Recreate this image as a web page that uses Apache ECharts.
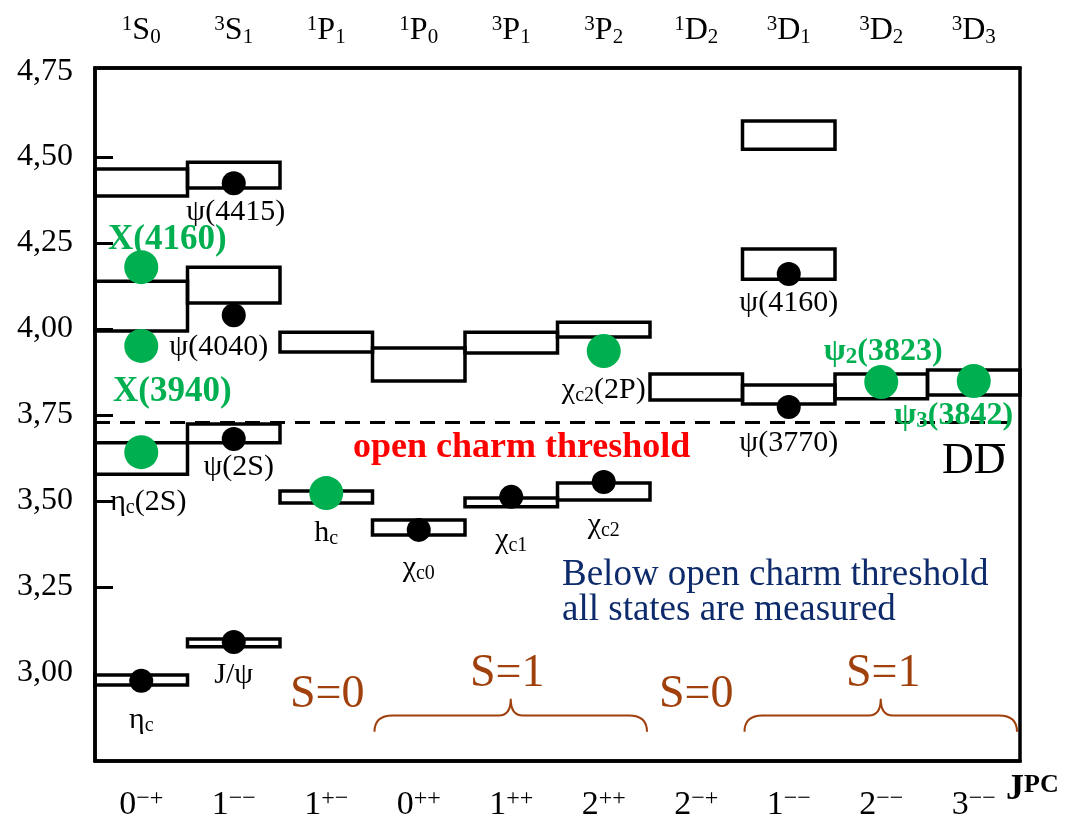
<!DOCTYPE html>
<html><head><meta charset="utf-8">
<script src="https://cdn.jsdelivr.net/npm/echarts@6/dist/echarts.min.js"></script>
<style>html,body{margin:0;padding:0;background:#fff}#c{width:1067px;height:824px}</style>
</head><body><div id="c"></div>
<script>
// ---------- data ----------
const jpcJ = ['0','1','1','0','1','2','2','1','2','3'];
const jpcPC = ['\u2212+','\u2212\u2212','+\u2212','++','++','++','\u2212+','\u2212\u2212','\u2212\u2212','\u2212\u2212'];
const specMult = ['1','3','1','1','3','3','1','3','3','3'];
const specL = ['S','S','P','P','P','P','D','D','D','D'];
const specJ = ['0','1','1','0','1','2','2','1','2','3'];
const yTickLabels = [3.00, 3.25, 3.50, 3.75, 4.00, 4.25, 4.50, 4.75];
const yTickMarks = [3.25, 3.50, 3.75, 4.00, 4.25, 4.50];

// predicted level bands: column, low mass, high mass (GeV)
const bandCol  = [0,     0,     0,     0,     1,     1,     1,     1,     2,     2,     3,     3,     4,     4,     5,     5,     6,     7,     7,     7,     8,     9];
const bandLow  = [4.387, 3.994, 3.578, 2.965, 4.410, 4.076, 3.669, 3.076, 3.933, 3.494, 3.849, 3.401, 3.930, 3.483, 3.977, 3.503, 3.794, 4.523, 4.145, 3.782, 3.797, 3.808];
const bandHigh = [4.465, 4.139, 3.669, 2.994, 4.485, 4.180, 3.724, 3.099, 3.991, 3.529, 3.945, 3.445, 3.991, 3.509, 4.020, 3.552, 3.869, 4.605, 4.233, 3.837, 3.869, 3.881];

// established states (black)
const knownNames = ['\u03b7{s|c}', 'J/\u03c8', '\u03c8(2S)', '\u03c8(4040)', '\u03c8(4415)', '\u03c7{s|c0}', '\u03c7{s|c1}', '\u03c7{s|c2}', '\u03c8(3770)', '\u03c8(4160)'];
const knownCol  = [0, 1, 1, 1, 1, 3, 4, 5, 7, 7];
const knownMass = [2.977, 3.090, 3.680, 4.040, 4.424, 3.416, 3.512, 3.555, 3.773, 4.160];

// newer states (green)
const newNames = ['X(4160)', 'X(3940)', '\u03b7{s|c}(2S)', 'h{s|c}', '\u03c7{s|c2}(2P)', '\u03c8{g|2}(3823)', '\u03c8{g|3}(3842)'];
const newCol  = [0, 0, 0, 2, 5, 8, 9];
const newMass = [4.180, 3.951, 3.642, 3.523, 3.936, 3.846, 3.849];

const threshold = 3.727;
const braceSpans = [[3, 6], [7, 10]];
const spinLabels = ['S=0', 'S=1', 'S=0', 'S=1'];

// ---------- layout / style (not data) ----------
const knownOffsets = [[0,39],[0,33],[5,28],[-15,32],[2,29],[0,38],[0,43],[0,43],[0,36],[0,29]];
const newOffsets = [[26,-27],[31,46],[7,50],[0,40],[0,39],[2,-30],[-20,35]];
const newLabelStyle = [true, true, false, false, false, true, true];
const FONT = '"Liberation Serif", "Times New Roman", serif';

const chart = echarts.init(document.getElementById('c'), null, {renderer: 'canvas'});

const blackRich = {
  s: {fontFamily: FONT, fontSize: 20, color: '#000', verticalAlign: 'bottom', lineHeight: 14},
  b: {fontFamily: FONT, fontSize: 30, color: '#000', lineHeight: 32}
};
const greenRich = {
  G: {fontFamily: FONT, fontSize: 35, fontWeight: 'bold', color: '#00b050', lineHeight: 36},
  H: {fontFamily: FONT, fontSize: 32, fontWeight: 'bold', color: '#00b050', lineHeight: 34},
  g: {fontFamily: FONT, fontSize: 23, fontWeight: 'bold', color: '#00b050', verticalAlign: 'bottom', lineHeight: 16}
};
function wrapBase(str, base) {
  return str.split(/(\{[a-z]\|[^}]*\})/).filter(p => p).map(p => p.startsWith('{') ? p : '{' + base + '|' + p + '}').join('');
}

const bandData = bandCol.map((c, i) => [c, bandLow[i], bandHigh[i]]);

const knownData = knownCol.map((c, i) => ({
  value: [c, knownMass[i]],
  label: {offset: knownOffsets[i], formatter: wrapBase(knownNames[i], 'b'), rich: blackRich}
}));
const newData = newCol.map((c, i) => {
  const green = newLabelStyle[i];
  const base = newNames[i].indexOf('{g|') >= 0 ? 'H' : 'G';
  return {
    value: [c, newMass[i]],
    label: green
      ? {offset: newOffsets[i], formatter: wrapBase(newNames[i], base), rich: greenRich}
      : {offset: newOffsets[i], formatter: wrapBase(newNames[i], 'b'), rich: blackRich}
  };
});

const option = {
  animation: false,
  backgroundColor: '#fff',
  grid: {left: 95, right: 47, top: 68, bottom: 63, show: true, borderColor: '#000', borderWidth: 3.5, backgroundColor: 'transparent'},
  xAxis: [
    {
      type: 'category', position: 'bottom', data: jpcJ.map((j, i) => i),
      axisLine: {lineStyle: {color: '#000', width: 3.5}},
      axisTick: {inside: true, length: 20, lineStyle: {color: '#000', width: 3}},
      axisLabel: {
        interval: 0, margin: 26,
        formatter: (v, i) => '{b|' + jpcJ[i] + '}{p|' + jpcPC[i] + '}',
        rich: {
          b: {fontFamily: FONT, fontSize: 34, color: '#000', lineHeight: 36},
          p: {fontFamily: FONT, fontSize: 24, color: '#000', verticalAlign: 'top', lineHeight: 22}
        }
      },
      splitLine: {show: false}
    },
    {
      type: 'category', position: 'top', data: specL.map((l, i) => i),
      axisLine: {lineStyle: {color: '#000', width: 3.5}},
      axisTick: {inside: true, length: 20, lineStyle: {color: '#000', width: 3}},
      axisLabel: {
        interval: 0, margin: 20,
        formatter: (v, i) => '{u|' + specMult[i] + '}{b|' + specL[i] + '}{d|' + specJ[i] + '}',
        rich: {
          b: {fontFamily: FONT, fontSize: 32, color: '#000', lineHeight: 34},
          u: {fontFamily: FONT, fontSize: 21, color: '#000', verticalAlign: 'top', lineHeight: 18},
          d: {fontFamily: FONT, fontSize: 21, color: '#000', verticalAlign: 'bottom', lineHeight: 16}
        }
      },
      splitLine: {show: false}
    }
  ],
  yAxis: {
    type: 'value', min: 2.744, max: 4.759,
    axisLine: {show: true, lineStyle: {color: '#000', width: 3.5}},
    axisTick: {show: true, inside: true, length: 18, customValues: yTickMarks, lineStyle: {color: '#000', width: 3}},
    axisLabel: {
      customValues: yTickLabels, margin: 22,
      formatter: v => v.toFixed(2).replace('.', ','),
      fontFamily: FONT, fontSize: 32, color: '#000'
    },
    splitLine: {show: false}
  },
  series: [
    {
      type: 'custom', name: 'bands', xAxisIndex: 0, yAxisIndex: 0,
      data: bandData, z: 2, clip: false,
      encode: {x: 0, y: [1, 2]},
      renderItem: (params, api) => {
        const c = api.value(0);
        const top = api.coord([c, api.value(2)]);
        const bot = api.coord([c, api.value(1)]);
        const w = api.size([1, 0])[0];
        return {type: 'rect', shape: {x: top[0] - w / 2, y: top[1], width: w, height: bot[1] - top[1]},
          style: {fill: 'transparent', stroke: '#000', lineWidth: 3.5}};
      },
      markLine: {
        silent: true, symbol: ['none', 'none'], label: {show: false},
        lineStyle: {color: '#000', width: 3, type: [15, 10]},
        data: [{yAxis: threshold}]
      }
    },
    {
      type: 'custom', name: 'braces', xAxisIndex: 0, yAxisIndex: 0,
      data: braceSpans, z: 3, clip: false,
      encode: {x: [0, 1]},
      renderItem: (params, api) => {
        const w = api.size([1, 0])[0];
        const x0 = api.coord([api.value(0), 3])[0] - w / 2 + 2;
        const x1 = api.coord([api.value(1) - 1, 3])[0] + w / 2 - 3;
        const yb = api.coord([0, 2.829])[1];
        const yh = api.coord([0, 2.876])[1];
        const yc = api.coord([0, 2.925])[1];
        const xm = (x0 + x1) / 2;
        const r = 18, m = 12;
        const d = `M${x0},${yb} Q${x0},${yh} ${x0 + r},${yh} L${xm - m},${yh} Q${xm},${yh} ${xm},${yc} Q${xm},${yh} ${xm + m},${yh} L${x1 - r},${yh} Q${x1},${yh} ${x1},${yb}`;
        return {type: 'path', shape: {pathData: d}, style: {fill: 'none', stroke: '#a0400c', lineWidth: 2}};
      }
    },
    {
      type: 'scatter', name: 'established', xAxisIndex: 0, data: knownData, z: 5,
      symbol: 'circle', symbolSize: 24, itemStyle: {color: '#000', opacity: 1},
      label: {show: true, position: 'inside'}
    },
    {
      type: 'scatter', name: 'new', xAxisIndex: 0, data: newData, z: 6,
      symbol: 'circle', symbolSize: 34, itemStyle: {color: '#00b050', opacity: 1},
      label: {show: true, position: 'inside'}
    }
  ],
  graphic: [
    {type: 'text', left: 353, top: 430, z: 10, style: {text: 'open charm threshold', font: 'bold 36px ' + FONT, fill: '#ff0000'}},
    {type: 'text', left: 562, top: 557, z: 10, style: {text: 'Below open charm threshold\nall states are measured', font: '37px ' + FONT, lineHeight: 35, fill: '#0d2a6b'}},
    {type: 'text', left: 942, top: 439, z: 10, style: {text: 'DD', font: '44px ' + FONT, fill: '#000'}},
    {type: 'line', z: 10, shape: {x1: 975, y1: 445, x2: 1005, y2: 445}, style: {stroke: '#000', lineWidth: 2}},
    {type: 'text', left: 290, top: 672, z: 10, style: {text: spinLabels[0], font: '46px ' + FONT, fill: '#a0400c'}},
    {type: 'text', left: 470, top: 651, z: 10, style: {text: spinLabels[1], font: '46px ' + FONT, fill: '#a0400c'}},
    {type: 'text', left: 659, top: 672, z: 10, style: {text: spinLabels[2], font: '46px ' + FONT, fill: '#a0400c'}},
    {type: 'text', left: 846, top: 651, z: 10, style: {text: spinLabels[3], font: '46px ' + FONT, fill: '#a0400c'}},
    {type: 'text', left: 1006, top: 772, z: 10, style: {text: '{j|J}{p|PC}', rich: {
      j: {font: 'bold 36px ' + FONT, fill: '#000', lineHeight: 36},
      p: {font: 'bold 26px ' + FONT, fill: '#000', verticalAlign: 'top', lineHeight: 22}}}}
  ]
};
chart.setOption(option);
</script>
</body></html>
